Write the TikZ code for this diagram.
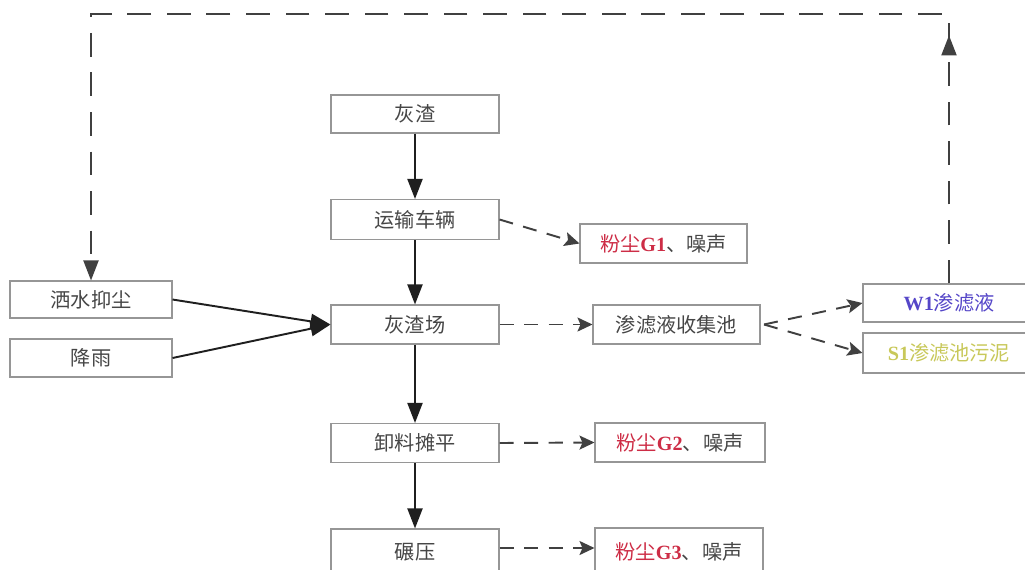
\documentclass[tikz,border=0pt]{standalone}
\usepackage{fontspec}
\setmainfont{Liberation Serif}
\newfontfamily\cjk{Noto Sans CJK SC}
\usetikzlibrary{arrows.meta}
\usetikzlibrary{decorations.markings}
\definecolor{txtgray}{RGB}{70,70,70}
\definecolor{boxgray}{RGB}{150,150,150}
\definecolor{dustred}{RGB}{205,45,70}
\definecolor{wblue}{RGB}{85,70,200}
\definecolor{syellow}{RGB}{200,200,90}
\newcommand{\lat}[1]{{\rmfamily\bfseries #1}}
\tikzset{
	box/.style={draw=boxgray,line width=0.6pt,inner sep=0pt,text=txtgray,
		minimum width=3.36cm,minimum height=0.78cm,
		font=\cjk\fontsize{11.5pt}{13pt}\selectfont},
	flow/.style={line width=1.1pt,draw=black!88,-{Triangle[length=0.4cm,width=0.3cm]}},
	side/.style={line width=1.1pt,draw=black!75,dash pattern=on 8pt off 6pt,
		-{Stealth[length=0.3cm,width=0.28cm,inset=0.06cm]}},
	backloop/.style={line width=1.1pt,draw=black!75,dash pattern=on 13.5pt off 9pt,
		-{Triangle[length=0.4cm,width=0.3cm]},
		postaction={decorate,decoration={markings,
			mark=at position 0.178 with {\arrow{Triangle[length=0.4cm,width=0.3cm]}}}}}
}
\begin{document}
\begin{tikzpicture}[x=0.02cm,y=-0.02cm]
	\useasboundingbox (0,0) rectangle (1025,569);
	\clip (0,0) rectangle (1025,569);

	\node[box,minimum height=0.76cm] (zha) at (415,114) {灰渣};
	\node[box,minimum height=0.8cm] (che) at (415,219.5) {运输车辆};
	\node[box] (chang) at (415,324.5) {灰渣场};
	\node[box] (xie) at (415,443) {卸料摊平};
	\node[box,minimum height=0.92cm] (nian) at (415,552) {碾压};

	\node[box,minimum width=3.34cm] (g1) at (663.5,243.5) {\textcolor{dustred}{粉尘\lat{G1}}、噪声};
	\node[box,minimum width=3.34cm] (chi) at (676.5,324.5) {渗滤液收集池};
	\node[box,minimum width=3.4cm] (g2) at (680,442.5) {\textcolor{dustred}{粉尘\lat{G2}}、噪声};
	\node[box,minimum width=3.36cm,minimum height=0.94cm] (g3) at (679,551.5) {\textcolor{dustred}{粉尘\lat{G3}}、噪声};

	\node[box,minimum width=3.24cm,minimum height=0.74cm] (sa) at (91,299.5) {洒水抑尘};
	\node[box,minimum width=3.24cm,minimum height=0.76cm] (yu) at (91,358) {降雨};

	\node[box,minimum width=3.44cm,minimum height=0.76cm,text=wblue] (w1) at (949,303) {\lat{W1}渗滤液};
	\node[box,minimum width=3.44cm,minimum height=0.8cm,text=syellow] (s1) at (949,353) {\lat{S1}渗滤池污泥};

	\draw[flow] (zha) -- (che);
	\draw[flow] (che) -- (chang);
	\draw[flow] (chang) -- (xie);
	\draw[flow] (xie) -- (nian);
	\draw[flow] (sa.east) -- (chang.west);
	\draw[flow] (yu.east) -- (chang.west);

	\draw[side] (che.east) -- (g1.west);
	\draw[side] (chang.east) -- (chi.west);
	\draw[side] ([xshift=2pt]chi.east) -- (w1.west);
	\draw[side] ([xshift=2pt]chi.east) -- (s1.west);
	\draw[side] (xie.east) -- (g2.west);
	\draw[side] ([yshift=0.08cm]nian.east) -- ([yshift=0.08cm]nian.east -| g3.west);

	\coordinate (tr) at (949,14);
	\coordinate (tl) at (sa.north |- tr);
	\draw[backloop] (w1.north) -- (tr) -- (tl) -- (sa.north);
\end{tikzpicture}
\end{document}
